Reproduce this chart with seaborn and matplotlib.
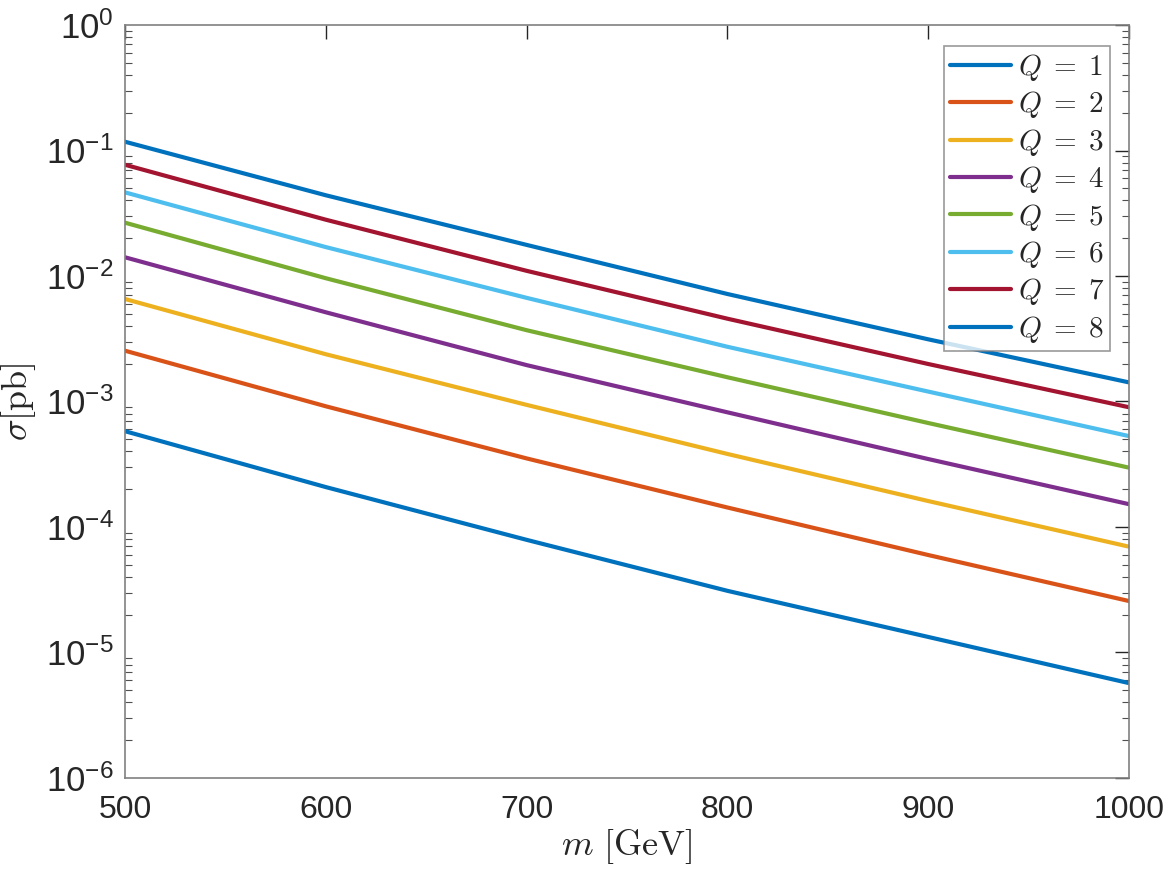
import numpy as np
import pandas as pd
import matplotlib
matplotlib.use("Agg")
import matplotlib.pyplot as plt
import seaborn as sns
from matplotlib.font_manager import FontProperties
from matplotlib.ticker import LogLocator, LogFormatterSciNotation, NullFormatter

# masses [GeV]
mass = [500, 600, 700, 800, 900, 1000]

# cross sections [pb] for each charge Q
sigma_q1 = [5.8e-4, 2.08e-4, 7.9e-5, 3.1e-5, 1.33e-5, 5.7e-6]
sigma_q2 = [2.54e-3, 9.16e-4, 3.52e-4, 1.43e-4, 5.98e-5, 2.57e-5]
sigma_q3 = [6.56e-3, 2.38e-3, 9.4e-4, 3.82e-4, 1.61e-4, 6.97e-5]
sigma_q4 = [1.41e-2, 5.14e-3, 1.95e-3, 8.2e-4, 3.48e-4, 1.52e-4]
sigma_q5 = [2.66e-2, 9.6e-3, 3.7e-3, 1.56e-3, 6.74e-4, 2.97e-4]
sigma_q6 = [4.64e-2, 1.70e-2, 6.7e-3, 2.73e-3, 1.2e-3, 5.3e-4]
sigma_q7 = [7.7e-2, 2.81e-2, 1.10e-2, 4.57e-3, 1.99e-3, 9.0e-4]
sigma_q8 = [1.175e-1, 4.40e-2, 1.77e-2, 7.19e-3, 3.13e-3, 1.42e-3]

labels = [r"$Q\;=\;%d$" % q for q in range(1, 9)]
series = [sigma_q1, sigma_q2, sigma_q3, sigma_q4, sigma_q5, sigma_q6, sigma_q7, sigma_q8]

matlab_colors = ["#0072BD", "#D95319", "#EDB120", "#7E2F8E",
                 "#77AC30", "#4DBEEE", "#A2142F", "#0072BD"]

rows = []
for lab, vals in zip(labels, series):
    for m, s in zip(mass, vals):
        rows.append({"m": m, "sigma": s, "Q": lab})
df = pd.DataFrame(rows)

sns.set_style("white")
plt.rcParams["font.family"] = ["Liberation Sans", "DejaVu Sans"]
plt.rcParams["axes.unicode_minus"] = False
plt.rcParams["mathtext.fontset"] = "custom"
plt.rcParams["mathtext.rm"] = "Liberation Sans"
plt.rcParams["mathtext.it"] = "Liberation Sans:italic"

fig = plt.figure(figsize=(11.67, 8.75), dpi=100)
ax = fig.add_axes([0.1071, 0.1109, 0.8603, 0.8605])

sns.lineplot(data=df, x="m", y="sigma", hue="Q", palette=matlab_colors,
             linewidth=3, ax=ax, legend=True)

ax.set_yscale("log")
ax.set_xlim(500, 1000)
ax.set_ylim(1e-6, 1)
ax.set_xticks([500, 600, 700, 800, 900, 1000])
ax.yaxis.set_major_locator(LogLocator(base=10, numticks=10))
ax.yaxis.set_major_formatter(LogFormatterSciNotation())
ax.yaxis.set_minor_locator(LogLocator(base=10, subs=np.arange(2, 10), numticks=20))
ax.yaxis.set_minor_formatter(NullFormatter())

for sp in ax.spines.values():
    sp.set_color("#808080")
    sp.set_linewidth(1.2)

ax.tick_params(axis="both", which="major", direction="in", length=10, width=1,
               color="#262626", labelcolor="#262626", top=True, right=True)
ax.tick_params(axis="x", which="major", pad=12, labelsize=23)
ax.tick_params(axis="y", which="major", pad=8, labelsize=25)
ax.tick_params(axis="y", which="minor", direction="in", length=5, width=0.8,
               color="#505050", left=True, right=True)

cm_label = FontProperties(size=26, math_fontfamily="cm")
ax.set_xlabel(r"$m\ [\mathrm{GeV}]$", fontproperties=cm_label, color="#262626", labelpad=2)
ax.set_ylabel(r"$\sigma[\mathrm{pb}]$", fontproperties=cm_label, color="#262626", labelpad=6)

leg = ax.legend(loc="upper right", bbox_to_anchor=(0.9815, 0.972),
                prop=FontProperties(size=21, math_fontfamily="cm"),
                frameon=True, fancybox=False, handlelength=2.1,
                handletextpad=0.25, labelspacing=0.22, borderpad=0.2,
                borderaxespad=0)
leg.get_frame().set_edgecolor("#808080")
leg.get_frame().set_linewidth(1.2)
for line in leg.get_lines():
    line.set_linewidth(3)

fig.savefig("out.png", dpi=100)
